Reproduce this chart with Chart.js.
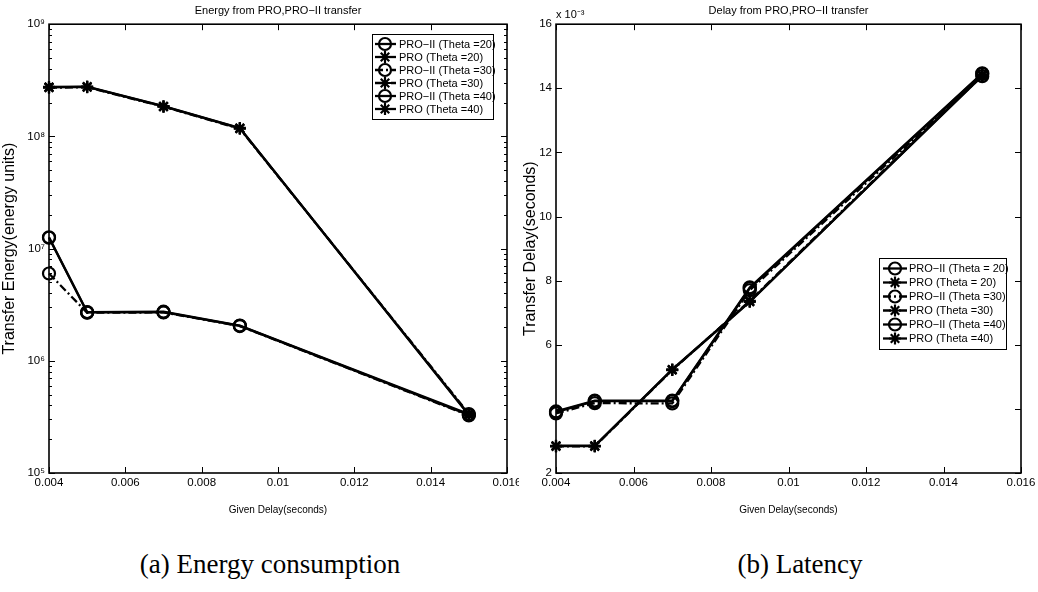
<!DOCTYPE html>
<html>
<head>
<meta charset="utf-8">
<title>Energy and delay from PRO, PRO-II transfer</title>
<script src="https://cdn.jsdelivr.net/npm/chart.js@4.4.1/dist/chart.umd.min.js"></script>
<style>
  body { margin: 0; background: #fff; width: 1038px; height: 592px; position: relative; overflow: hidden; }
  .panel { position: absolute; top: 0; width: 519px; height: 520px; }
  #leftPanel { left: 0; }
  #rightPanel { left: 519px; }
  .caption { position: absolute; top: 549px; width: 540px; text-align: center;
             font-family: "Liberation Serif", "DejaVu Serif", serif; font-size: 27px; color: #000; }
</style>
</head>
<body>
<div class="panel" id="leftPanel"><canvas id="energyChart" width="519" height="520"></canvas></div>
<div class="panel" id="rightPanel"><canvas id="delayChart" width="519" height="520"></canvas></div>
<div class="caption" style="left:0px">(a) Energy consumption</div>
<div class="caption" style="left:530px">(b) Latency</div>

<script>
// x values (given delay, seconds)
var givenDelay = [0.004, 0.005, 0.007, 0.009, 0.015];

// legend labels
var energyLabels = ["PRO\u2212II (Theta =20)", "PRO (Theta =20)", "PRO\u2212II (Theta =30)",
                    "PRO (Theta =30)", "PRO\u2212II (Theta =40)", "PRO (Theta =40)"];
var delayLabels = ["PRO\u2212II (Theta = 20)", "PRO (Theta = 20)", "PRO\u2212II (Theta =30)",
                   "PRO (Theta =30)", "PRO\u2212II (Theta =40)", "PRO (Theta =40)"];

// transfer energy (energy units)
var energyPro2T20 = [1.25e7, 2.70e6, 2.72e6, 2.05e6, 3.30e5];
var energyProT20  = [2.74e8, 2.76e8, 1.85e8, 1.18e8, 3.32e5];
var energyPro2T30 = [6.0e6, 2.68e6, 2.70e6, 2.04e6, 3.26e5];
var energyProT30  = [2.72e8, 2.74e8, 1.84e8, 1.17e8, 3.38e5];
var energyPro2T40 = [1.26e7, 2.72e6, 2.74e6, 2.06e6, 3.35e5];
var energyProT40  = [2.76e8, 2.78e8, 1.86e8, 1.19e8, 3.28e5];

// transfer delay (seconds)
var delayPro2T20 = [0.00390, 0.00424, 0.00424, 0.00776, 0.01445];
var delayProT20  = [0.00284, 0.00284, 0.00522, 0.00734, 0.01441];
var delayPro2T30 = [0.00386, 0.00418, 0.00417, 0.00770, 0.01438];
var delayProT30  = [0.00283, 0.00283, 0.00521, 0.00737, 0.01443];
var delayPro2T40 = [0.00392, 0.00426, 0.00426, 0.00779, 0.01447];
var delayProT40  = [0.00285, 0.00285, 0.00523, 0.00735, 0.01439];

// tick values
var xTicks = [0.004, 0.006, 0.008, 0.01, 0.012, 0.014, 0.016];
var delayTicks = [0.002, 0.004, 0.006, 0.008, 0.01, 0.012, 0.014, 0.016];
var delayTickLabels = ["2", "", "6", "8", "10", "12", "14", "16"];

var sansFont = '"Liberation Sans", Arial, Helvetica, sans-serif';
var superDigits = { 5: "\u2075", 6: "\u2076", 7: "\u2077", 8: "\u2078", 9: "\u2079" };

function toPoints(ys) {
  return givenDelay.map(function (x, i) { return { x: x, y: ys[i] }; });
}

// same look for every series: circles for PRO-II, asterisks for PRO, theta 30 dash-dot
function makeDatasets(labels, lists) {
  return lists.map(function (ys, i) {
    var isPro2 = (i % 2 === 0);
    var dashed = (i === 2 || i === 3);
    return {
      label: labels[i],
      data: toPoints(ys),
      borderColor: "#000",
      borderWidth: 2.3,
      borderDash: dashed ? [8, 3, 2, 3] : [],
      pointStyle: isPro2 ? "circle" : "star",
      pointRadius: 6,
      pointBorderWidth: 2.2,
      pointBorderColor: "#000",
      pointBackgroundColor: "rgba(0,0,0,0)",
      tension: 0,
      clip: false
    };
  });
}

// box round the plot area and inward ticks on all four sides (matlab look)
var matlabAxes = {
  id: "matlabAxes",
  beforeDatasetsDraw: function (chart) {
    var ctx = chart.ctx, a = chart.chartArea;
    var xs = chart.scales.x, ys = chart.scales.y;
    ctx.save();
    ctx.strokeStyle = "#000";
    ctx.lineWidth = 1;
    xs.ticks.forEach(function (t) {
      var px = Math.round(xs.getPixelForValue(t.value)) + 0.5;
      ctx.beginPath();
      ctx.moveTo(px, a.bottom); ctx.lineTo(px, a.bottom - 6);
      ctx.moveTo(px, a.top); ctx.lineTo(px, a.top + 6);
      ctx.stroke();
    });
    ys.ticks.forEach(function (t) {
      var py = Math.round(ys.getPixelForValue(t.value)) + 0.5;
      var len = t.label === "" && ys.type === "logarithmic" ? 3 : 6;
      ctx.beginPath();
      ctx.moveTo(a.left, py); ctx.lineTo(a.left + len, py);
      ctx.moveTo(a.right, py); ctx.lineTo(a.right - len, py);
      ctx.stroke();
    });
    ctx.lineWidth = 1.6;
    ctx.strokeRect(a.left, a.top, a.right - a.left, a.bottom - a.top);
    ctx.restore();
  }
};

// legend drawn as a white box with a black frame inside the plot
var boxLegend = {
  id: "boxLegend",
  afterDraw: function (chart, args, opts) {
    var ctx = chart.ctx;
    ctx.save();
    ctx.setLineDash([]);
    ctx.fillStyle = "#fff";
    ctx.fillRect(opts.x, opts.y, opts.w, opts.h);
    ctx.strokeStyle = "#000";
    ctx.lineWidth = 1;
    ctx.strokeRect(opts.x + 0.5, opts.y + 0.5, opts.w, opts.h);
    chart.data.datasets.forEach(function (ds, i) {
      var cy = opts.y + opts.first + i * opts.step;
      ctx.strokeStyle = "#000";
      ctx.lineWidth = ds.borderWidth;
      ctx.setLineDash(ds.borderDash);
      ctx.beginPath();
      ctx.moveTo(opts.x + opts.lineFrom, cy);
      ctx.lineTo(opts.x + opts.lineTo, cy);
      ctx.stroke();
      ctx.setLineDash([]);
      ctx.lineWidth = ds.pointBorderWidth;
      ctx.fillStyle = "rgba(0,0,0,0)";
      Chart.helpers.drawPoint(ctx, { pointStyle: ds.pointStyle, radius: ds.pointRadius,
        borderWidth: ds.pointBorderWidth, rotation: 0 }, opts.x + opts.markX, cy);
      ctx.fillStyle = "#000";
      ctx.font = "11px " + sansFont;
      ctx.textBaseline = "middle";
      ctx.textAlign = "left";
      ctx.fillText(ds.label, opts.x + opts.textX, cy + 0.5);
    });
    ctx.restore();
  }
};

// the "x 10^-3" multiplier above the delay axis
var axisExponent = {
  id: "axisExponent",
  afterDraw: function (chart, args, opts) {
    if (!opts.text) return;
    var ctx = chart.ctx;
    ctx.save();
    ctx.fillStyle = "#000";
    ctx.font = "11px " + sansFont;
    ctx.textBaseline = "alphabetic";
    ctx.fillText(opts.text, chart.chartArea.left, chart.chartArea.top - 6);
    ctx.restore();
  }
};

function xScale() {
  return {
    type: "linear",
    min: 0.004,
    max: 0.016,
    afterBuildTicks: function (s) { s.ticks = xTicks.map(function (v) { return { value: v }; }); },
    ticks: {
      autoSkip: false, maxRotation: 0, padding: 3, color: "#000",
      font: { family: sansFont, size: 11.5 },
      callback: function (v) { return String(+v.toFixed(3)); }
    },
    grid: { display: false, drawTicks: false },
    border: { display: false },
    title: { display: true, text: "Given Delay(seconds)", color: "#000",
             font: { family: sansFont, size: 10 }, padding: { top: 0, bottom: 4 } },
    afterFit: function (s) { s.height = 47; s.paddingLeft = 0; s.paddingRight = 0; }
  };
}

function baseOptions(titleText) {
  return {
    responsive: false,
    animation: false,
    devicePixelRatio: 1,
    events: [],
    plugins: {
      legend: { display: false },
      tooltip: { enabled: false },
      title: { display: true, text: titleText, fullSize: false, color: "#000",
               font: { family: sansFont, size: 11, weight: "normal" },
               padding: { top: 4, bottom: 7 } }
    }
  };
}

// (a) energy, log y axis
var energyOptions = baseOptions("Energy from PRO,PRO\u2212II transfer");
energyOptions.layout = { padding: { right: 12, left: 0, top: 0, bottom: 0 } };
energyOptions.plugins.boxLegend = { x: 372, y: 34, w: 121, h: 85, first: 10, step: 13,
                                    lineFrom: 3, lineTo: 24, markX: 13, textX: 27 };
energyOptions.scales = {
  x: xScale(),
  y: {
    type: "logarithmic",
    min: 1e5,
    max: 1e9,
    afterBuildTicks: function (s) {
      var t = [];
      for (var e = 5; e < 9; e++) {
        for (var m = 1; m < 10; m++) t.push({ value: m * Math.pow(10, e) });
      }
      t.push({ value: 1e9 });
      s.ticks = t;
    },
    ticks: {
      autoSkip: false, padding: 4, color: "#000",
      font: { family: sansFont, size: 11.5 },
      callback: function (v) {
        var e = Math.log10(v);
        var r = Math.round(e);
        return Math.abs(e - r) < 1e-9 ? "10" + superDigits[r] : "";
      }
    },
    grid: { display: false, drawTicks: false },
    border: { display: false },
    title: { display: true, text: "Transfer Energy(energy units)", color: "#000",
             font: { family: sansFont, size: 16 }, padding: { top: 0, bottom: 0 } },
    afterFit: function (s) { s.width = 49; s.paddingTop = 0; s.paddingBottom = 0; }
  }
};

new Chart(document.getElementById("energyChart"), {
  type: "line",
  data: { datasets: makeDatasets(energyLabels, [energyPro2T20, energyProT20, energyPro2T30,
                                                energyProT30, energyPro2T40, energyProT40]) },
  options: energyOptions,
  plugins: [matlabAxes, boxLegend]
});

// (b) delay, linear y axis shown in units of 10^-3
var delayOptions = baseOptions("Delay from PRO,PRO\u2212II transfer");
delayOptions.layout = { padding: { right: 17, left: 0, top: 0, bottom: 0 } };
delayOptions.plugins.boxLegend = { x: 360, y: 258, w: 127, h: 91, first: 10.5, step: 14,
                                   lineFrom: 4, lineTo: 28, markX: 16, textX: 30 };
delayOptions.plugins.axisExponent = { text: "x 10\u207B\u00B3" };
delayOptions.scales = {
  x: xScale(),
  y: {
    type: "linear",
    min: 0.002,
    max: 0.016,
    afterBuildTicks: function (s) { s.ticks = delayTicks.map(function (v) { return { value: v }; }); },
    ticks: {
      autoSkip: false, padding: 4, color: "#000",
      font: { family: sansFont, size: 11.5 },
      callback: function (v, i) { return delayTickLabels[i]; }
    },
    grid: { display: false, drawTicks: false },
    border: { display: false },
    title: { display: true, text: "Transfer Delay(seconds)", color: "#000",
             font: { family: sansFont, size: 16 }, padding: { top: 2, bottom: 0 } },
    afterFit: function (s) { s.width = 37; s.paddingTop = 0; s.paddingBottom = 0; }
  }
};

new Chart(document.getElementById("delayChart"), {
  type: "line",
  data: { datasets: makeDatasets(delayLabels, [delayPro2T20, delayProT20, delayPro2T30,
                                               delayProT30, delayPro2T40, delayProT40]) },
  options: delayOptions,
  plugins: [matlabAxes, boxLegend, axisExponent]
});
</script>
</body>
</html>
